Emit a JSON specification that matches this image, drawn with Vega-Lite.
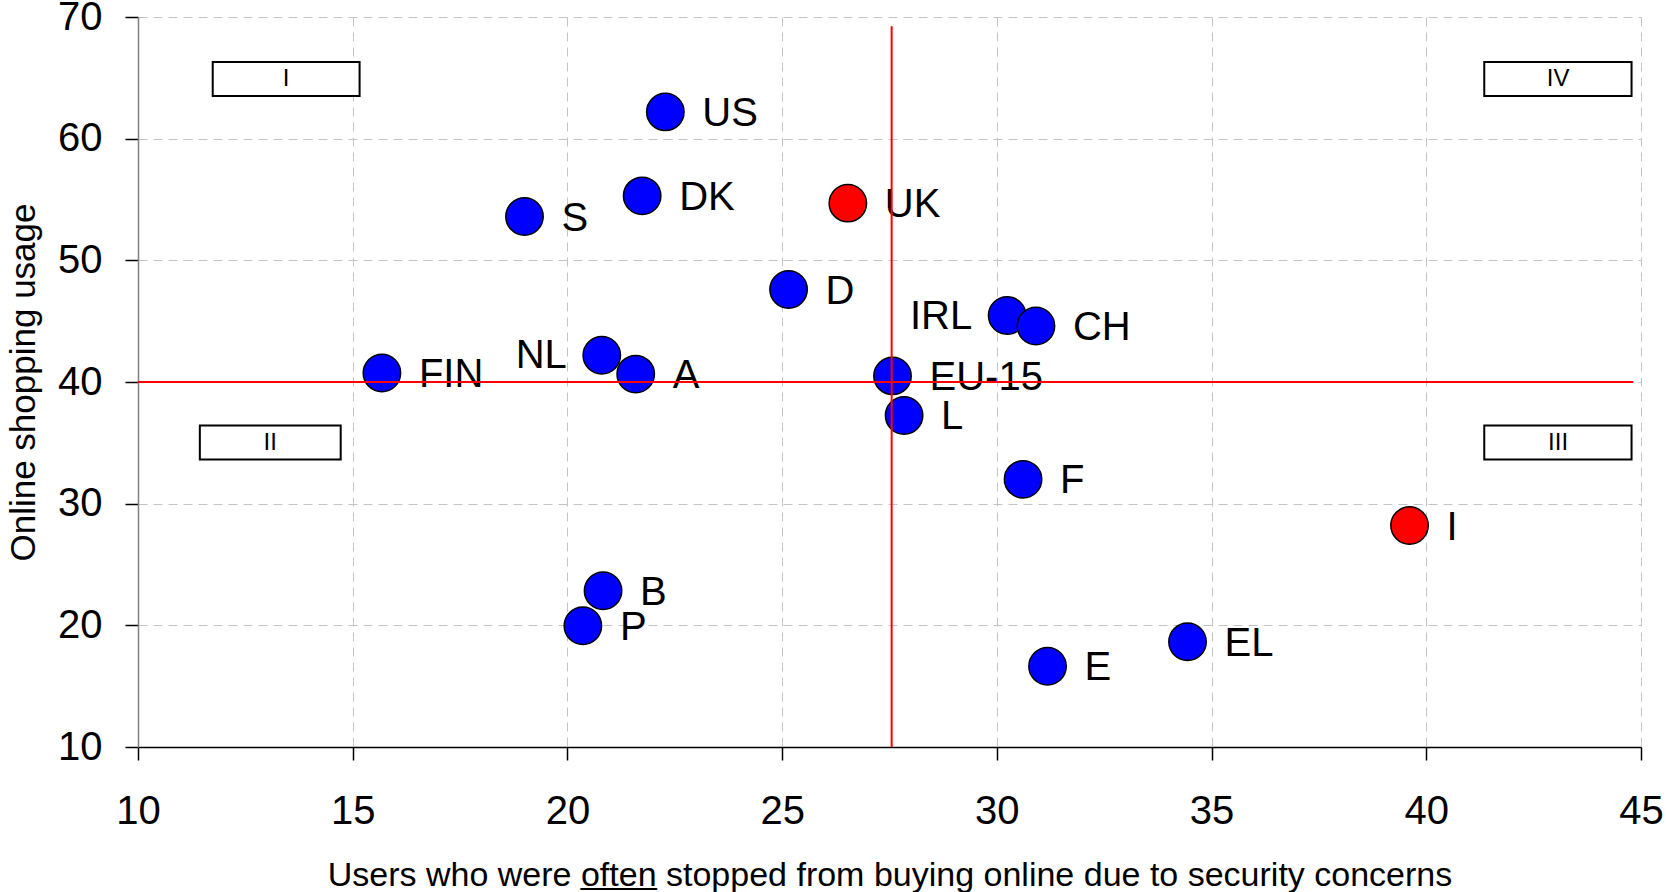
{
  "$schema": "https://vega.github.io/schema/vega-lite/v6.json",
  "width": 1503,
  "height": 730,
  "autosize": "none",
  "padding": {"left": 138, "top": 17, "right": 25, "bottom": 145},
  "background": "white",
  "config": {
    "view": {"stroke": null},
    "font": "Liberation Sans",
    "text": {"font": "Liberation Sans"}
  },
  "datasets": {
    "countries": [
      {"country": "US", "x": 22.28, "y": 62.2, "group": "other"},
      {"country": "DK", "x": 21.74, "y": 55.3, "group": "other"},
      {"country": "S", "x": 19.0, "y": 53.6, "group": "other"},
      {"country": "UK", "x": 26.53, "y": 54.7, "group": "highlight"},
      {"country": "D", "x": 25.15, "y": 47.6, "group": "other"},
      {"country": "IRL", "x": 30.24, "y": 45.46, "group": "other"},
      {"country": "CH", "x": 30.91, "y": 44.6, "group": "other"},
      {"country": "NL", "x": 20.8, "y": 42.2, "group": "other"},
      {"country": "A", "x": 21.59, "y": 40.65, "group": "other"},
      {"country": "FIN", "x": 15.68, "y": 40.74, "group": "other"},
      {"country": "EU-15", "x": 27.57, "y": 40.5, "group": "other"},
      {"country": "L", "x": 27.84, "y": 37.25, "group": "other"},
      {"country": "F", "x": 30.61, "y": 32.0, "group": "other"},
      {"country": "I", "x": 39.61, "y": 28.2, "group": "highlight"},
      {"country": "B", "x": 20.83, "y": 22.84, "group": "other"},
      {"country": "P", "x": 20.36, "y": 19.96, "group": "other"},
      {"country": "E", "x": 31.18, "y": 16.64, "group": "other"},
      {"country": "EL", "x": 34.44, "y": 18.65, "group": "other"}
    ],
    "boxes": [
      {"label": "I", "x": 11.74, "x2": 15.16, "y": 66.3, "y2": 63.5},
      {"label": "II", "x": 11.44, "x2": 14.72, "y": 36.42, "y2": 33.62},
      {"label": "III", "x": 41.35, "x2": 44.78, "y": 36.42, "y2": 33.62},
      {"label": "IV", "x": 41.35, "x2": 44.78, "y": 66.3, "y2": 63.5}
    ],
    "numerals": [
      {"label": "I", "x": 13.45, "y": 64.9},
      {"label": "II", "x": 13.08, "y": 35.02},
      {"label": "III", "x": 43.07, "y": 35.02},
      {"label": "IV", "x": 43.07, "y": 64.9}
    ],
    "hline": [{"x": 10, "x2": 44.82, "y": 40}],
    "vline": [{"x": 27.55, "y": 10, "y2": 69.23}]
  },
  "encoding": {
    "x": {
      "field": "x",
      "type": "quantitative",
      "scale": {"domain": [10, 45], "nice": false, "zero": false},
      "axis": {
        "title": "Users who were o̲f̲t̲e̲n̲ stopped from buying online due to security concerns",
        "values": [10, 15, 20, 25, 30, 35, 40, 45],
        "grid": true,
        "gridDash": [9, 6],
        "gridColor": "#c4c4c4",
        "gridWidth": 1,
        "domainColor": "#000000",
        "domainWidth": 1.5,
        "tickColor": "#000000",
        "tickSize": 13,
        "tickWidth": 1.5,
        "labelFontSize": 40,
        "labelColor": "#000000",
        "labelPadding": 31,
        "labelFlush": false,
        "titleFontSize": 34,
        "titleFontWeight": "normal",
        "titleColor": "#000000",
        "titlePadding": 27
      }
    },
    "y": {
      "field": "y",
      "type": "quantitative",
      "scale": {"domain": [10, 70], "nice": false, "zero": false},
      "axis": {
        "title": "Online shopping usage",
        "values": [10, 20, 30, 40, 50, 60, 70],
        "grid": true,
        "gridDash": [9, 6],
        "gridColor": "#c4c4c4",
        "gridWidth": 1,
        "domainColor": "#808080",
        "domainWidth": 1.5,
        "tickColor": "#000000",
        "tickSize": 13,
        "tickWidth": 1.5,
        "labelFontSize": 40,
        "labelColor": "#000000",
        "labelPadding": 23,
        "labelFlush": false,
        "titleFontSize": 35,
        "titleFontWeight": "normal",
        "titleColor": "#000000",
        "titlePadding": 16
      }
    }
  },
  "layer": [
    {
      "data": {"name": "boxes"},
      "mark": {"type": "rect", "fill": "white", "stroke": "black", "strokeWidth": 2},
      "encoding": {
        "x2": {"field": "x2"},
        "y2": {"field": "y2"}
      }
    },
    {
      "data": {"name": "numerals"},
      "mark": {"type": "text", "fontSize": 24, "color": "black", "align": "center", "baseline": "middle"},
      "encoding": {"text": {"field": "label"}}
    },
    {
      "data": {"name": "countries"},
      "mark": {"type": "point", "shape": "circle", "filled": true, "size": 1400, "stroke": "black", "strokeWidth": 1.5, "opacity": 1},
      "encoding": {
        "fill": {
          "field": "group",
          "type": "nominal",
          "scale": {"domain": ["other", "highlight"], "range": ["#0000ff", "#ff0000"]},
          "legend": null
        }
      }
    },
    {
      "data": {"name": "countries"},
      "transform": [{"filter": "datum.country !== 'IRL' && datum.country !== 'NL'"}],
      "mark": {"type": "text", "fontSize": 40, "color": "black", "align": "left", "baseline": "middle", "dx": 37, "dy": 2},
      "encoding": {"text": {"field": "country"}}
    },
    {
      "data": {"name": "countries"},
      "transform": [{"filter": "datum.country === 'IRL' || datum.country === 'NL'"}],
      "mark": {"type": "text", "fontSize": 40, "color": "black", "align": "right", "baseline": "middle", "dx": -35, "dy": 1},
      "encoding": {"text": {"field": "country"}}
    },
    {
      "data": {"name": "hline"},
      "mark": {"type": "rule", "color": "#ff0000", "strokeWidth": 2},
      "encoding": {"x2": {"field": "x2"}}
    },
    {
      "data": {"name": "vline"},
      "mark": {"type": "rule", "color": "#ff0000", "strokeWidth": 2},
      "encoding": {"y2": {"field": "y2"}}
    }
  ]
}
